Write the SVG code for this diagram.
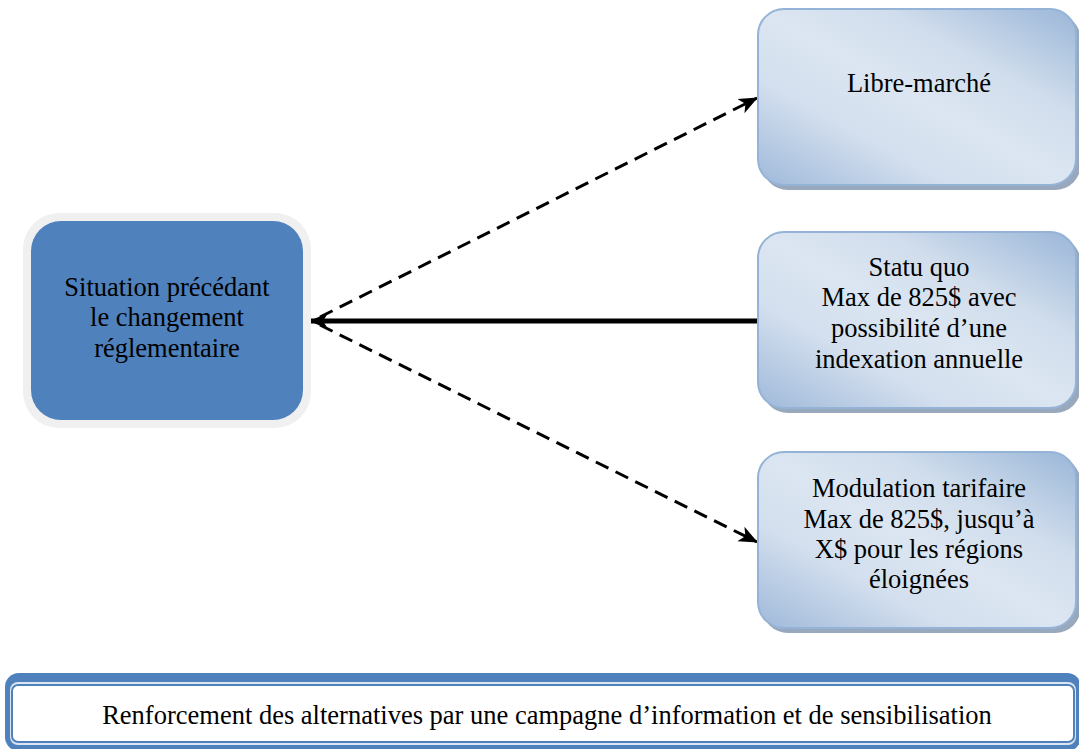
<svg xmlns="http://www.w3.org/2000/svg" width="1079" height="749" viewBox="0 0 1079 749">
<style>
.t{font-family:'Liberation Serif','Times New Roman',serif;font-size:26.5px;fill:#000;text-anchor:middle}
.dash{stroke:#000;stroke-width:3;stroke-dasharray:14 8;fill:none}
.solid{stroke:#000;stroke-width:5;fill:none}
.alt{fill:url(#g);stroke:#95b3d7;stroke-width:2}
.sh{fill:#8093ad;opacity:0.8}
</style>
<defs>
<linearGradient id="g" x1="0" y1="1" x2="1" y2="0">
<stop offset="0" stop-color="#9fb9da"/>
<stop offset="0.3" stop-color="#d3dfee"/>
<stop offset="0.5" stop-color="#dce6f2"/>
<stop offset="0.7" stop-color="#d0ddec"/>
<stop offset="1" stop-color="#9ab6d8"/>
</linearGradient>
<marker id="ah" markerWidth="20" markerHeight="20" refX="18" refY="10" orient="auto" markerUnits="userSpaceOnUse" viewBox="0 0 20 20">
<path d="M0,2 L19,10 L0,18 L5,10 Z" fill="#000"/>
</marker>
</defs>

<g id="connectors">
<line class="dash" x1="320" y1="317" x2="757" y2="98" marker-end="url(#ah)"/>
<line class="solid" x1="758" y1="321" x2="310" y2="321" marker-end="url(#ah)"/>
<line class="dash" x1="320" y1="325" x2="757" y2="542" marker-end="url(#ah)"/>
</g>

<g id="node-situation">
<rect x="23" y="213" width="288" height="215" rx="36" fill="#f0f0f0"/>
<rect x="31" y="221" width="272" height="199" rx="30" fill="#4f81bd"/>
<text class="t"><tspan x="167" y="296">Situation précédant</tspan><tspan x="167" y="326">le changement</tspan><tspan x="167" y="357">réglementaire</tspan></text>
</g>

<g id="node-libre">
<rect class="sh" x="762" y="14" width="319" height="176" rx="26"/>
<rect class="alt" x="758" y="9" width="318" height="176" rx="26"/>
<text class="t" x="919" y="92">Libre-marché</text>
</g>

<g id="node-statu">
<rect class="sh" x="762" y="237" width="319" height="176" rx="26"/>
<rect class="alt" x="758" y="232" width="318" height="176" rx="26"/>
<text class="t"><tspan x="919" y="276">Statu quo</tspan><tspan x="919" y="306">Max de 825$ avec</tspan><tspan x="919" y="337">possibilité d’une</tspan><tspan x="919" y="368">indexation annuelle</tspan></text>
</g>

<g id="node-modulation">
<rect class="sh" x="762" y="457" width="319" height="176" rx="26"/>
<rect class="alt" x="758" y="452" width="318" height="176" rx="26"/>
<text class="t"><tspan x="919" y="497">Modulation tarifaire</tspan><tspan x="919" y="528">Max de 825$, jusqu’à</tspan><tspan x="919" y="558">X$ pour les régions</tspan><tspan x="919" y="588">éloignées</tspan></text>
</g>

<g id="node-renforcement">
<rect x="5" y="673" width="1076" height="78" rx="14" fill="#4f81bd"/>
<rect x="10" y="682" width="1066" height="63" rx="8" fill="#dce6f2"/>
<rect x="12" y="685" width="1062" height="57" rx="6" fill="#fff" stroke="#4f81bd" stroke-width="2"/>
<text class="t" x="547" y="724">Renforcement des alternatives par une campagne d’information et de sensibilisation</text>
</g>
</svg>
